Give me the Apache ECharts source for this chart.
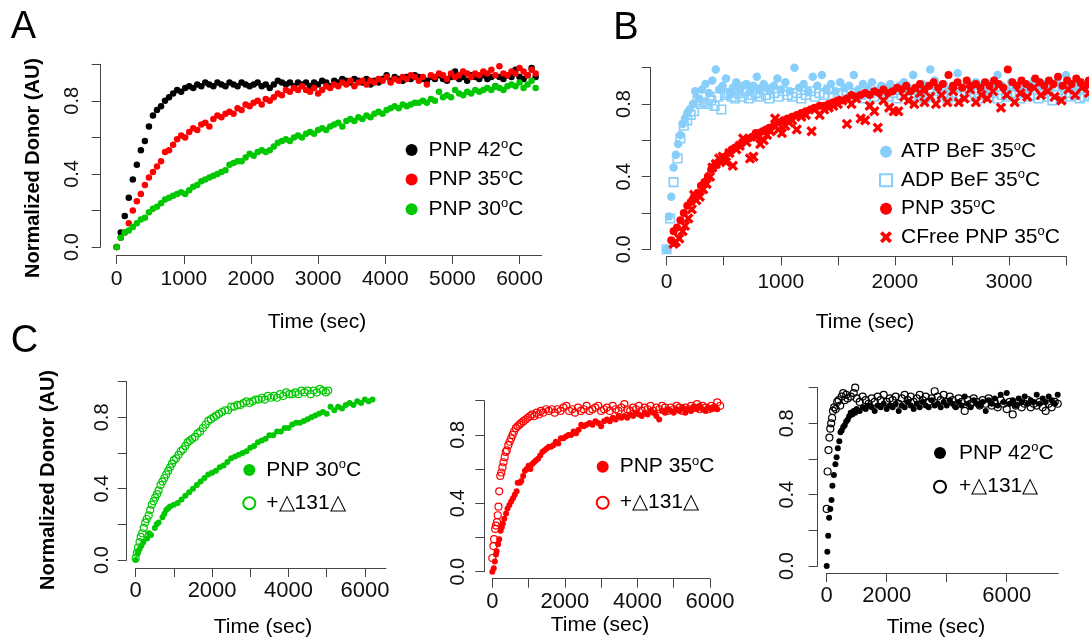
<!DOCTYPE html>
<html>
<head>
<meta charset="utf-8">
<script src="https://cdn.jsdelivr.net/npm/echarts@6/dist/echarts.min.js"></script>
<style>
html, body { margin: 0; padding: 0; background: #fff; }
#chart { width: 1089px; height: 641px; }
</style>
</head>
<body>
<div id="chart"></div>
<script>
// Panel A: normalized donor vs time, three temperatures [time s, value]
const pnp42A = [[0,0.00],[60,0.08],[120,0.17],[180,0.27],[240,0.37],[300,0.45],[360,0.53],[420,0.58],[480,0.66],[540,0.72],[600,0.75],[660,0.77],[720,0.80],[780,0.82],[840,0.84],[900,0.86],[960,0.85],[1020,0.87],[1080,0.88],[1140,0.87],[1200,0.89],[1260,0.88],[1320,0.90],[1380,0.89],[1440,0.88],[1500,0.90],[1560,0.89],[1620,0.88],[1680,0.90],[1740,0.89],[1800,0.88],[1860,0.90],[1920,0.89],[1980,0.88],[2040,0.89],[2100,0.90],[2160,0.88],[2220,0.89],[2280,0.87],[2340,0.89],[2400,0.91],[2460,0.90],[2520,0.89],[2580,0.90],[2640,0.88],[2700,0.90],[2760,0.89],[2820,0.90],[2880,0.88],[2940,0.90],[3000,0.89],[3060,0.91],[3120,0.90],[3180,0.88],[3240,0.91],[3300,0.90],[3360,0.92],[3420,0.91],[3480,0.90],[3540,0.92],[3600,0.91],[3660,0.90],[3720,0.92],[3780,0.89],[3840,0.91],[3900,0.90],[3960,0.92],[4020,0.94],[4080,0.91],[4140,0.93],[4200,0.92],[4260,0.91],[4320,0.93],[4380,0.92],[4440,0.94],[4500,0.93],[4560,0.92],[4620,0.91],[4680,0.93],[4740,0.92],[4800,0.94],[4860,0.92],[4920,0.91],[4980,0.93],[5040,0.96],[5100,0.92],[5160,0.93],[5220,0.91],[5280,0.94],[5340,0.93],[5400,0.92],[5460,0.94],[5520,0.92],[5580,0.93],[5640,0.88],[5700,0.93],[5760,0.92],[5820,0.94],[5880,0.93],[5940,0.97],[6000,0.93],[6060,0.92],[6120,0.94],[6180,0.98],[6240,0.93]];
const pnp35A = [[0,0.00],[60,0.05],[120,0.08],[180,0.13],[240,0.20],[300,0.25],[360,0.29],[420,0.34],[480,0.38],[540,0.41],[600,0.44],[660,0.47],[720,0.52],[780,0.53],[840,0.56],[900,0.59],[960,0.61],[1020,0.60],[1080,0.63],[1140,0.65],[1200,0.64],[1260,0.67],[1320,0.68],[1380,0.66],[1440,0.70],[1500,0.72],[1560,0.71],[1620,0.73],[1680,0.74],[1740,0.73],[1800,0.76],[1860,0.75],[1920,0.78],[1980,0.77],[2040,0.79],[2100,0.80],[2160,0.78],[2220,0.81],[2280,0.80],[2340,0.82],[2400,0.84],[2460,0.83],[2520,0.86],[2580,0.85],[2640,0.87],[2700,0.86],[2760,0.88],[2820,0.86],[2880,0.85],[2940,0.87],[3000,0.84],[3060,0.86],[3120,0.88],[3180,0.87],[3240,0.89],[3300,0.88],[3360,0.90],[3420,0.89],[3480,0.91],[3540,0.88],[3600,0.90],[3660,0.91],[3720,0.89],[3780,0.91],[3840,0.90],[3900,0.92],[3960,0.91],[4020,0.93],[4080,0.90],[4140,0.92],[4200,0.91],[4260,0.93],[4320,0.92],[4380,0.94],[4440,0.93],[4500,0.91],[4560,0.93],[4620,0.89],[4680,0.94],[4740,0.93],[4800,0.95],[4860,0.94],[4920,0.92],[4980,0.95],[5040,0.93],[5100,0.94],[5160,0.96],[5220,0.95],[5280,0.93],[5340,0.95],[5400,0.94],[5460,0.96],[5520,0.95],[5580,0.97],[5640,0.94],[5700,0.99],[5760,0.95],[5820,0.94],[5880,0.96],[5940,0.95],[6000,0.98],[6060,0.96],[6120,0.94],[6180,0.97],[6240,0.95]];
const pnp30A = [[0,0.00],[60,0.05],[120,0.08],[180,0.09],[240,0.11],[300,0.13],[360,0.15],[420,0.16],[480,0.19],[540,0.21],[600,0.22],[660,0.24],[720,0.26],[780,0.27],[840,0.28],[900,0.29],[960,0.30],[1020,0.29],[1080,0.31],[1140,0.33],[1200,0.34],[1260,0.36],[1320,0.37],[1380,0.38],[1440,0.39],[1500,0.40],[1560,0.41],[1620,0.42],[1680,0.45],[1740,0.46],[1800,0.47],[1860,0.47],[1920,0.49],[1980,0.51],[2040,0.50],[2100,0.52],[2160,0.53],[2220,0.52],[2280,0.53],[2340,0.55],[2400,0.57],[2460,0.58],[2520,0.59],[2580,0.58],[2640,0.60],[2700,0.61],[2760,0.60],[2820,0.62],[2880,0.63],[2940,0.62],[3000,0.64],[3060,0.65],[3120,0.64],[3180,0.66],[3240,0.67],[3300,0.68],[3360,0.66],[3420,0.69],[3480,0.70],[3540,0.69],[3600,0.71],[3660,0.70],[3720,0.72],[3780,0.71],[3840,0.73],[3900,0.74],[3960,0.73],[4020,0.75],[4080,0.76],[4140,0.77],[4200,0.76],[4260,0.78],[4320,0.77],[4380,0.78],[4440,0.79],[4500,0.79],[4560,0.80],[4620,0.79],[4680,0.81],[4740,0.80],[4800,0.85],[4860,0.82],[4920,0.83],[4980,0.82],[5040,0.86],[5100,0.84],[5160,0.83],[5220,0.85],[5280,0.84],[5340,0.86],[5400,0.85],[5460,0.86],[5520,0.87],[5580,0.86],[5640,0.88],[5700,0.87],[5760,0.86],[5820,0.88],[5880,0.89],[5940,0.88],[6000,0.90],[6060,0.87],[6120,0.89],[6180,0.91],[6240,0.87]];

// Panel B: nucleotide analogues at 35C
const atpBeF = [[0,0],[20,0.18],[40,0.29],[60,0.45],[80,0.52],[100,0.58],[120,0.63],[140,0.69],[160,0.72],[180,0.75],[200,0.77],[230,0.80],[250,0.87],[280,0.83],[310,0.88],[340,0.91],[370,0.86],[400,0.93],[430,0.99],[460,0.88],[490,0.90],[520,0.94],[550,0.86],[580,0.89],[610,0.92],[640,0.88],[670,0.90],[700,0.91],[730,0.87],[760,0.90],[790,0.95],[820,0.88],[850,0.91],[880,0.89],[910,0.87],[940,0.90],[970,0.94],[1000,0.88],[1040,0.92],[1080,0.87],[1120,1.00],[1160,0.89],[1200,0.91],[1240,0.87],[1280,0.95],[1320,0.90],[1360,0.96],[1400,0.88],[1440,0.91],[1480,0.87],[1520,0.92],[1560,0.89],[1600,0.90],[1640,0.96],[1680,0.88],[1720,0.91],[1760,0.89],[1800,0.92],[1840,0.87],[1880,0.90],[1920,0.89],[1960,0.91],[2000,0.88],[2040,0.90],[2080,0.92],[2120,0.89],[2160,0.96],[2200,0.88],[2240,0.91],[2280,0.90],[2310,0.99],[2350,0.93],[2390,0.89],[2430,0.91],[2470,0.88],[2510,0.90],[2550,0.97],[2590,0.89],[2630,0.91],[2670,0.88],[2710,0.92],[2750,0.90],[2790,0.87],[2830,0.91],[2870,0.89],[2900,0.96],[2940,0.90],[2980,0.88],[3020,0.92],[3060,0.89],[3100,0.91],[3140,0.88],[3180,0.90],[3220,0.93],[3260,0.89],[3300,0.91],[3340,0.88],[3380,0.90],[3420,0.92],[3460,0.89],[3500,0.96],[3540,0.90],[3580,0.88],[3620,0.92],[3660,0.89],[3700,0.91]];
const adpBeF = [[0,0],[30,0.17],[60,0.37],[95,0.50],[120,0.61],[150,0.68],[180,0.71],[210,0.74],[240,0.76],[270,0.82],[300,0.80],[330,0.81],[360,0.80],[390,0.82],[420,0.79],[450,0.84],[480,0.77],[510,0.85],[540,0.86],[570,0.84],[600,0.83],[630,0.86],[660,0.84],[690,0.87],[720,0.83],[750,0.85],[780,0.86],[810,0.84],[840,0.88],[870,0.85],[900,0.83],[940,0.86],[980,0.84],[1020,0.87],[1060,0.85],[1100,0.84],[1140,0.86],[1180,0.83],[1220,0.85],[1260,0.87],[1300,0.84],[1340,0.86],[1380,0.85],[1420,0.88],[1460,0.84],[1500,0.86],[1540,0.85],[1580,0.87],[1620,0.84],[1660,0.86],[1700,0.85],[1740,0.83],[1780,0.86],[1820,0.84],[1860,0.87],[1900,0.85],[1940,0.84],[1980,0.86],[2020,0.83],[2060,0.85],[2100,0.87],[2140,0.84],[2180,0.86],[2220,0.85],[2260,0.83],[2300,0.86],[2340,0.84],[2380,0.87],[2420,0.85],[2460,0.83],[2500,0.86],[2540,0.84],[2580,0.85],[2620,0.87],[2660,0.84],[2700,0.86],[2740,0.83],[2780,0.85],[2820,0.84],[2860,0.86],[2900,0.83],[2940,0.85],[2980,0.84],[3020,0.86],[3060,0.85],[3100,0.83],[3140,0.86],[3180,0.84],[3220,0.85],[3260,0.83],[3300,0.86],[3340,0.84],[3380,0.82],[3420,0.85],[3460,0.83],[3500,0.86],[3540,0.84],[3580,0.85],[3620,0.83],[3660,0.84],[3700,0.85]];
const pnp35B = [[40,0.05],[60,0.10],[90,0.12],[120,0.16],[150,0.20],[180,0.24],[210,0.26],[240,0.29],[270,0.31],[300,0.35],[330,0.37],[360,0.40],[390,0.44],[420,0.46],[450,0.48],[480,0.49],[510,0.51],[540,0.53],[570,0.55],[600,0.56],[630,0.57],[660,0.59],[690,0.60],[720,0.61],[750,0.62],[780,0.64],[810,0.64],[840,0.65],[870,0.66],[900,0.67],[940,0.68],[980,0.70],[1020,0.71],[1060,0.72],[1100,0.73],[1140,0.74],[1180,0.75],[1220,0.76],[1260,0.77],[1300,0.78],[1340,0.79],[1380,0.79],[1420,0.80],[1460,0.81],[1500,0.82],[1540,0.82],[1580,0.83],[1620,0.85],[1660,0.84],[1700,0.85],[1740,0.86],[1780,0.85],[1820,0.87],[1860,0.86],[1900,0.88],[1940,0.86],[1980,0.87],[2020,0.89],[2060,0.88],[2100,0.90],[2140,0.87],[2180,0.89],[2220,0.91],[2260,0.88],[2300,0.90],[2340,0.92],[2380,0.89],[2420,0.91],[2470,0.96],[2510,0.90],[2550,0.92],[2590,0.89],[2630,0.93],[2670,0.90],[2710,0.91],[2750,0.89],[2790,0.92],[2830,0.90],[2870,0.93],[2910,0.91],[2950,0.89],[2990,0.99],[3030,0.92],[3070,0.90],[3110,0.93],[3150,0.91],[3190,0.89],[3230,0.94],[3270,0.92],[3310,0.90],[3350,0.93],[3390,0.91],[3430,0.95],[3470,0.90],[3510,0.93],[3550,0.91],[3590,0.94],[3630,0.92],[3670,0.90],[3700,0.93]];
const cfreePnp35 = [[60,0.03],[80,0.04],[110,0.06],[140,0.10],[160,0.13],[190,0.17],[220,0.22],[240,0.30],[260,0.27],[290,0.29],[320,0.33],[350,0.36],[380,0.40],[400,0.45],[430,0.47],[460,0.50],[490,0.51],[520,0.48],[550,0.53],[580,0.46],[610,0.55],[640,0.57],[670,0.61],[700,0.59],[730,0.50],[760,0.51],[790,0.62],[820,0.58],[850,0.60],[880,0.63],[910,0.65],[950,0.72],[980,0.66],[1010,0.64],[1040,0.68],[1070,0.70],[1100,0.71],[1140,0.66],[1180,0.73],[1220,0.74],[1270,0.65],[1300,0.77],[1340,0.74],[1380,0.77],[1420,0.78],[1460,0.79],[1500,0.80],[1540,0.82],[1580,0.69],[1620,0.80],[1660,0.83],[1700,0.72],[1740,0.71],[1780,0.79],[1820,0.76],[1850,0.67],[1900,0.82],[1950,0.78],[1990,0.76],[2030,0.76],[2080,0.84],[2120,0.82],[2170,0.80],[2220,0.86],[2260,0.81],[2310,0.84],[2360,0.80],[2410,0.85],[2460,0.81],[2510,0.87],[2560,0.81],[2610,0.83],[2660,0.88],[2710,0.81],[2760,0.85],[2810,0.83],[2860,0.87],[2930,0.78],[2980,0.85],[3050,0.81],[3100,0.86],[3160,0.84],[3220,0.89],[3280,0.85],[3340,0.87],[3400,0.84],[3460,0.82],[3520,0.88],[3580,0.85],[3640,0.89],[3700,0.86]];

// Panel C: with / without the 131 deletion mutant
const pnp30C = [[0,0.00],[50,0.04],[100,0.06],[150,0.08],[200,0.10],[300,0.12],[350,0.15],[400,0.14],[500,0.18],[550,0.20],[600,0.21],[700,0.24],[750,0.26],[800,0.28],[850,0.29],[900,0.30],[1000,0.31],[1100,0.32],[1200,0.34],[1300,0.36],[1400,0.38],[1500,0.40],[1600,0.42],[1700,0.44],[1800,0.46],[1900,0.48],[2000,0.49],[2100,0.50],[2200,0.52],[2300,0.53],[2400,0.55],[2500,0.57],[2600,0.58],[2700,0.59],[2800,0.60],[2900,0.61],[3000,0.63],[3100,0.64],[3200,0.66],[3300,0.67],[3400,0.68],[3500,0.70],[3600,0.70],[3700,0.72],[3800,0.72],[3900,0.74],[4000,0.74],[4100,0.76],[4200,0.77],[4300,0.77],[4400,0.78],[4500,0.79],[4600,0.80],[4700,0.81],[4800,0.82],[4900,0.83],[5000,0.82],[5100,0.86],[5200,0.84],[5300,0.86],[5400,0.85],[5500,0.87],[5600,0.88],[5700,0.87],[5800,0.89],[5900,0.88],[6000,0.90],[6100,0.89],[6200,0.90]];
const pnp30Del = [[0,0.01],[30,0.04],[60,0.07],[100,0.10],[130,0.13],[170,0.15],[210,0.18],[250,0.21],[290,0.23],[340,0.25],[380,0.28],[420,0.31],[470,0.33],[510,0.35],[560,0.37],[600,0.39],[650,0.42],[700,0.44],[750,0.46],[800,0.48],[850,0.50],[900,0.52],[950,0.54],[1000,0.56],[1060,0.57],[1120,0.59],[1180,0.61],[1240,0.62],[1300,0.64],[1360,0.66],[1420,0.67],[1480,0.68],[1550,0.69],[1620,0.71],[1690,0.72],[1760,0.74],[1830,0.76],[1900,0.78],[1970,0.79],[2040,0.80],[2110,0.81],[2180,0.82],[2260,0.83],[2340,0.84],[2420,0.84],[2500,0.86],[2580,0.86],[2660,0.87],[2740,0.87],[2820,0.88],[2900,0.89],[2980,0.88],[3060,0.89],[3140,0.90],[3220,0.90],[3300,0.91],[3380,0.90],[3460,0.92],[3540,0.91],[3620,0.92],[3700,0.91],[3780,0.93],[3860,0.92],[3940,0.94],[4020,0.93],[4100,0.93],[4180,0.94],[4260,0.93],[4340,0.95],[4420,0.94],[4500,0.95],[4580,0.93],[4660,0.95],[4740,0.94],[4820,0.96],[4900,0.95],[4980,0.94],[5040,0.95]];
const pnp35C = [[0,0.00],[40,0.02],[70,0.06],[100,0.10],[120,0.12],[160,0.16],[190,0.19],[230,0.24],[260,0.26],[290,0.28],[330,0.31],[380,0.34],[420,0.37],[470,0.39],[520,0.41],[570,0.43],[620,0.45],[670,0.47],[700,0.52],[760,0.52],[800,0.53],[850,0.56],[900,0.59],[950,0.60],[1000,0.62],[1050,0.60],[1100,0.63],[1150,0.64],[1200,0.65],[1260,0.66],[1320,0.68],[1380,0.70],[1440,0.71],[1500,0.72],[1560,0.73],[1620,0.73],[1680,0.74],[1750,0.76],[1820,0.75],[1890,0.78],[1960,0.78],[2030,0.79],[2100,0.80],[2170,0.80],[2240,0.82],[2310,0.81],[2380,0.83],[2450,0.86],[2520,0.85],[2600,0.86],[2680,0.87],[2760,0.86],[2840,0.88],[2920,0.87],[3000,0.85],[3080,0.88],[3160,0.89],[3240,0.88],[3320,0.90],[3400,0.89],[3480,0.91],[3560,0.90],[3640,0.91],[3720,0.90],[3800,0.92],[3880,0.91],[3960,0.93],[4040,0.92],[4120,0.91],[4200,0.93],[4280,0.92],[4360,0.94],[4440,0.93],[4520,0.91],[4600,0.89],[4680,0.94],[4760,0.93],[4840,0.95],[4920,0.94],[5000,0.93],[5080,0.95],[5160,0.94],[5240,0.96],[5320,0.93],[5400,0.95],[5480,0.94],[5560,0.96],[5640,0.95],[5720,0.97],[5800,0.95],[5880,0.94],[5960,0.96],[6040,0.95],[6120,0.96],[6200,0.95]];
const pnp35Del = [[0,0.08],[30,0.15],[50,0.19],[80,0.25],[100,0.27],[130,0.29],[150,0.33],[170,0.38],[190,0.47],[220,0.56],[250,0.58],[280,0.61],[310,0.64],[340,0.67],[370,0.70],[400,0.71],[440,0.74],[480,0.76],[520,0.78],[560,0.80],[600,0.82],[650,0.84],[700,0.85],[750,0.86],[800,0.87],[860,0.88],[920,0.89],[980,0.90],[1040,0.91],[1100,0.92],[1160,0.91],[1220,0.93],[1280,0.92],[1340,0.94],[1400,0.93],[1480,0.95],[1560,0.94],[1640,0.95],[1720,0.93],[1800,0.95],[1880,0.94],[1960,0.96],[2040,0.97],[2120,0.94],[2200,0.95],[2280,0.93],[2360,0.96],[2440,0.94],[2520,0.95],[2600,0.97],[2680,0.94],[2760,0.95],[2840,0.96],[2920,0.97],[3000,0.94],[3080,0.95],[3160,0.96],[3240,0.94],[3320,0.97],[3400,0.95],[3480,0.94],[3560,0.96],[3640,0.98],[3720,0.95],[3800,0.94],[3880,0.96],[3960,0.95],[4040,0.97],[4120,0.94],[4200,0.96],[4280,0.95],[4360,0.97],[4440,0.94],[4520,0.96],[4600,0.95],[4680,0.97],[4760,0.96],[4840,0.94],[4920,0.96],[5000,0.95],[5080,0.97],[5160,0.96],[5240,0.94],[5320,0.96],[5400,0.95],[5480,0.97],[5560,0.96],[5640,0.98],[5720,0.95],[5800,0.97],[5880,0.96],[5960,0.95],[6040,0.97],[6120,0.96],[6200,0.99],[6280,0.97]];
const pnp42C = [[0,0.00],[20,0.08],[50,0.17],[80,0.27],[120,0.32],[160,0.37],[190,0.45],[240,0.51],[290,0.57],[330,0.61],[370,0.66],[420,0.70],[460,0.75],[500,0.76],[550,0.78],[600,0.79],[650,0.81],[700,0.82],[750,0.84],[800,0.86],[850,0.85],[900,0.87],[950,0.86],[1000,0.88],[1100,0.87],[1200,0.89],[1300,0.88],[1400,0.90],[1500,0.89],[1600,0.87],[1700,0.90],[1800,0.89],[1900,0.91],[2000,0.88],[2100,0.90],[2200,0.89],[2300,0.91],[2400,0.87],[2500,0.90],[2600,0.89],[2700,0.92],[2800,0.90],[2900,0.88],[3000,0.91],[3100,0.89],[3200,0.92],[3300,0.90],[3400,0.89],[3500,0.93],[3600,0.90],[3700,0.91],[3800,0.89],[3900,0.92],[4000,0.90],[4100,0.93],[4200,0.91],[4300,0.89],[4400,0.92],[4500,0.90],[4600,0.95],[4700,0.91],[4800,0.89],[4900,0.93],[5000,0.91],[5100,0.90],[5200,0.92],[5300,0.87],[5400,0.93],[5500,0.91],[5600,0.94],[5700,0.90],[5800,0.96],[5900,0.92],[6000,0.97],[6100,0.91],[6200,0.93],[6300,0.90],[6400,0.94],[6500,0.92],[6600,0.95],[6700,0.91],[6800,0.93],[6900,0.92],[7000,0.96],[7100,0.91],[7200,0.94],[7300,0.92],[7400,0.95],[7500,0.93],[7600,0.91],[7700,0.96]];
const pnp42Del = [[0,0.32],[30,0.53],[60,0.65],[90,0.72],[120,0.77],[150,0.80],[180,0.83],[210,0.87],[250,0.89],[300,0.88],[350,0.92],[400,0.93],[450,0.90],[500,0.95],[550,0.97],[600,0.93],[650,0.96],[700,0.94],[800,0.95],[900,0.97],[950,1.00],[1000,0.94],[1100,0.92],[1200,0.95],[1300,0.93],[1400,0.91],[1500,0.94],[1600,0.92],[1700,0.95],[1800,0.93],[1900,0.96],[2000,0.92],[2100,0.94],[2200,0.93],[2300,0.95],[2400,0.91],[2500,0.94],[2600,0.96],[2700,0.93],[2800,0.95],[2900,0.92],[3000,0.94],[3100,0.96],[3200,0.93],[3300,0.95],[3400,0.92],[3500,0.94],[3600,0.98],[3700,0.95],[3800,0.93],[3900,0.96],[4000,0.92],[4100,0.95],[4200,0.93],[4300,0.90],[4400,0.94],[4500,0.92],[4600,0.87],[4700,0.93],[4800,0.91],[4900,0.94],[5000,0.92],[5100,0.90],[5200,0.93],[5300,0.91],[5400,0.94],[5500,0.90],[5600,0.92],[5700,0.89],[5800,0.93],[5900,0.91],[6000,0.88],[6100,0.92],[6200,0.85],[6300,0.90],[6400,0.92],[6500,0.89],[6600,0.91],[6700,0.93],[6800,0.89],[6900,0.91],[7000,0.90],[7100,0.92],[7200,0.89],[7300,0.87],[7400,0.91],[7500,0.89],[7600,0.92],[7700,0.91]];

// tick values
const yTicks = [0, 0.2, 0.4, 0.6, 0.8, 1];
const yLabels = [0, 0.4, 0.8];
const xTicks1000 = [0, 1000, 2000, 3000, 4000, 5000, 6000];
const xTicksB = [0, 500, 1000, 1500, 2000, 2500, 3000, 3500];
const xLabelsB = [0, 1000, 2000, 3000];
const xLabelsC = [0, 2000, 4000, 6000];
const xTicksC3 = [0, 2000, 4000, 6000];
const xLabelsC3 = [0, 2000, 6000];

const legendText = {
  a42: 'PNP 42{s|o}C', a35: 'PNP 35{s|o}C', a30: 'PNP 30{s|o}C',
  bAtp: 'ATP BeF 35{s|o}C', bAdp: 'ADP BeF 35{s|o}C', bPnp: 'PNP 35{s|o}C', bCf: 'CFree PNP 35{s|o}C',
  c1f: 'PNP 30{s|o}C', c1o: '+\u25B3131\u25B3',
  c2f: 'PNP 35{s|o}C', c2o: '+\u25B3131\u25B3',
  c3f: 'PNP 42{s|o}C', c3o: '+\u25B3131\u25B3'
};

const FONT = '"Liberation Sans", Arial, sans-serif';
const AX = '#444';
const GREEN = '#00c800', RED = '#ff0000', BLUE = '#87cefa', BLACK = '#000';
const XMARK = 'path://M0,2.2L2.2,0L5,2.8L7.8,0L10,2.2L7.2,5L10,7.8L7.8,10L5,7.2L2.2,10L0,7.8L2.8,5Z';

// pixel layout of each panel
const panels = [
  { left: 116.7, top: 64.3, width: 425, height: 182.7, xMax: 6330, ticks: xTicks1000, labels: xTicks1000, xOff: 8, yOff: 16, xMargin: 12, yMargin: 16, xFont: 21 },
  { left: 666.7, top: 67.7, width: 399.3, height: 181.6, xMax: 3500, ticks: xTicksB, labels: xLabelsB, xOff: 7, yOff: 16, xMargin: 14, yMargin: 14, xFont: 21 },
  { left: 135.7, top: 381.7, width: 250.2, height: 178.3, xMax: 6550, ticks: xTicks1000, labels: xLabelsC, xOff: 8, yOff: 9, xMargin: 11, yMargin: 12, xFont: 22 },
  { left: 492.3, top: 400.7, width: 217.7, height: 171, xMax: 6000, ticks: xTicks1000, labels: xLabelsC, xOff: 7, yOff: 8, xMargin: 11, yMargin: 14, xFont: 22 },
  { left: 826.7, top: 387.7, width: 231.6, height: 178.3, xMax: 7720, ticks: xTicksC3, labels: xLabelsC3, xOff: 7, yOff: 9, xMargin: 11, yMargin: 18, xFont: 22 }
];

const grids = panels.map(p => ({ left: p.left, top: p.top, width: p.width, height: p.height, containLabel: false }));

const xAxes = panels.map((p, i) => ({
  type: 'value', gridIndex: i, min: 0, max: p.xMax, offset: p.xOff,
  splitLine: { show: false },
  axisLine: { show: true, onZero: false, lineStyle: { color: AX, width: 1 } },
  axisTick: { show: true, length: 9, customValues: p.ticks, lineStyle: { color: AX, width: 1 } },
  axisLabel: { customValues: p.labels, margin: p.xMargin, fontSize: p.xFont, lineHeight: 24, fontFamily: FONT, color: '#111', formatter: v => String(v) }
}));

const yAxes = panels.map((p, i) => ({
  type: 'value', gridIndex: i, min: 0, max: 1, offset: p.yOff,
  splitLine: { show: false },
  axisLine: { show: true, onZero: false, lineStyle: { color: AX, width: 1 } },
  axisTick: { show: true, length: 9, customValues: yTicks, lineStyle: { color: AX, width: 1 } },
  axisLabel: { customValues: yLabels, rotate: 90, margin: p.yMargin, fontSize: 20, lineHeight: 24, fontFamily: FONT, color: '#111', formatter: v => v.toFixed(1) }
}));

function dots(name, data, idx, color, size) {
  return { type: 'scatter', name, data, xAxisIndex: idx, yAxisIndex: idx, clip: false, silent: true,
    symbol: 'circle', symbolSize: size, itemStyle: { color: color, opacity: 1 } };
}
function rings(name, data, idx, color, size, symbol) {
  return { type: 'scatter', name, data, xAxisIndex: idx, yAxisIndex: idx, clip: false, silent: true,
    symbol: symbol || 'circle', symbolSize: size,
    itemStyle: { color: 'rgba(255,255,255,0)', borderColor: color, borderWidth: 1.2, opacity: 1 } };
}

const series = [
  dots('a42', pnp42A, 0, BLACK, 6.5),
  dots('a35', pnp35A, 0, RED, 6.5),
  dots('a30', pnp30A, 0, GREEN, 6.5),
  dots('bAtp', atpBeF, 1, BLUE, 8.5),
  rings('bAdp', adpBeF, 1, BLUE, 8.5, 'rect'),
  dots('bPnp', pnp35B, 1, RED, 8),
  Object.assign(dots('bCf', cfreePnp35, 1, RED, 10.5), { symbol: XMARK }),
  dots('c1f', pnp30C, 2, GREEN, 6),
  rings('c1o', pnp30Del, 2, GREEN, 7),
  dots('c2f', pnp35C, 3, RED, 6),
  rings('c2o', pnp35Del, 3, RED, 7),
  dots('c3f', pnp42C, 4, BLACK, 6),
  rings('c3o', pnp42Del, 4, BLACK, 7)
];
series[4].itemStyle.borderWidth = 1.6;

function legendAt(names, markerX, firstRowY, rowStep, textPad) {
  return {
    data: names, orient: 'vertical', left: markerX - 6, top: firstRowY - 12,
    itemWidth: 12, itemHeight: 12, itemGap: rowStep - 24, padding: 0, selectedMode: false,
    formatter: n => legendText[n],
    textStyle: { fontSize: 21, lineHeight: 24, fontFamily: FONT, color: '#000', padding: [0, 0, 0, textPad],
      rich: { s: { fontSize: 13, lineHeight: 14, verticalAlign: 'top', fontFamily: FONT, color: '#000' } } }
  };
}

const legends = [
  legendAt(['a42', 'a35', 'a30'], 411.6, 150, 29.6, 6),
  legendAt(['bAtp', 'bAdp', 'bPnp', 'bCf'], 885, 151.7, 28.5, 4),
  legendAt(['c1f', 'c1o'], 248.3, 470, 33.3, 6),
  legendAt(['c2f', 'c2o'], 601.7, 466.7, 36, 6),
  legendAt(['c3f', 'c3o'], 939, 453, 33.7, 8)
];

function label(text, x, y, size, weight, rot) {
  return { type: 'text', x: x, y: y, rotation: rot || 0, silent: true,
    style: { text: text, fontSize: size, fontWeight: weight || 'normal', fontFamily: FONT, fill: '#000', align: 'center', verticalAlign: 'middle' } };
}

const graphics = [
  label('A', 23.5, 28, 38),
  label('B', 626, 29, 38),
  label('C', 24.5, 342, 38),
  label('Normalized Donor (AU)', 33, 168, 20, 'bold', Math.PI / 2),
  label('Normalized Donor (AU)', 48, 480, 20, 'bold', Math.PI / 2),
  label('Time (sec)', 317, 322, 21),
  label('Time (sec)', 865, 322, 21),
  label('Time (sec)', 263, 627, 21),
  label('Time (sec)', 600, 625, 21),
  label('Time (sec)', 936, 627, 21)
];

const chart = echarts.init(document.getElementById('chart'), null, { renderer: 'canvas' });
chart.setOption({
  animation: false,
  backgroundColor: '#fff',
  textStyle: { fontFamily: FONT },
  grid: grids,
  xAxis: xAxes,
  yAxis: yAxes,
  legend: legends,
  series: series,
  graphic: graphics
});
</script>
</body>
</html>
